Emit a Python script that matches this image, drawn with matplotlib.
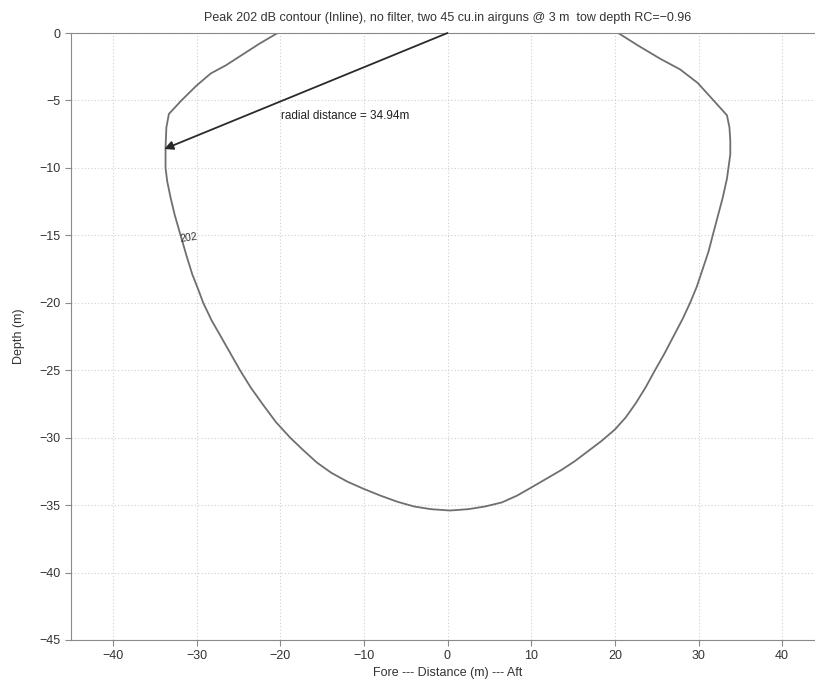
import matplotlib.pyplot as plt

# Peak 202 dB contour, traced from the top-left edge round to the top-right edge
contour_x = [-20.3, -22.5, -24.5, -26.5, -28.3, -30.0, -31.8, -33.3, -33.6, -33.7,
             -33.7, -33.5, -33.1, -32.6, -31.9, -31.2, -30.5, -29.8, -29.2, -28.2,
             -27.0, -25.9, -24.8, -23.5, -22.0, -20.5, -18.8, -17.2, -15.6, -13.9,
             -12.0, -10.0, -8.0, -6.0, -4.0, -2.0, 0.3, 2.5, 4.5, 6.5,
             8.3, 10.0, 11.8, 13.6, 15.2, 16.8, 18.4, 20.0, 21.3, 22.5,
             23.7, 24.8, 25.9, 27.0, 28.1, 29.0, 29.8, 30.5, 31.2, 31.7,
             32.3, 32.9, 33.4, 33.8, 33.8, 33.7, 33.4, 31.8, 29.9, 27.8,
             25.4, 22.7, 20.4]
contour_y = [0.0, -0.8, -1.6, -2.4, -3.0, -3.9, -5.0, -6.0, -7.0, -8.5,
             -10.0, -11.0, -12.2, -13.5, -15.0, -16.5, -17.9, -19.0, -20.0, -21.3,
             -22.6, -23.8, -25.0, -26.3, -27.6, -28.85, -30.0, -30.95, -31.85, -32.6,
             -33.25, -33.8, -34.3, -34.75, -35.1, -35.3, -35.4, -35.3, -35.1, -34.8,
             -34.3, -33.7, -33.05, -32.4, -31.75, -31.0, -30.25, -29.4, -28.5, -27.45,
             -26.25, -25.0, -23.8, -22.5, -21.2, -20.0, -18.8, -17.5, -16.2, -15.0,
             -13.6, -12.2, -10.8, -9.0, -8.0, -7.0, -6.1, -5.0, -3.7, -2.7,
             -1.9, -0.9, 0.0]

contour_level = 202
radial_point = (-33.85, -8.6)
radial_distance = 34.94

xticks = [-40, -30, -20, -10, 0, 10, 20, 30, 40]
yticks = [0, -5, -10, -15, -20, -25, -30, -35, -40, -45]

plt.rcParams['font.family'] = ['Liberation Sans', 'DejaVu Sans']
plt.rcParams['axes.unicode_minus'] = True

fig = plt.figure(figsize=(8.15, 6.89), dpi=100)
ax = fig.add_axes([71 / 815, 49 / 689, 753 / 815, 607 / 689])

ax.plot(contour_x, contour_y, color='#6f6f6f', lw=1.3)

ax.annotate('', xy=radial_point, xytext=(0, 0),
            arrowprops=dict(arrowstyle='-|>', color='#2a2a2a', lw=1.3,
                            mutation_scale=13, shrinkA=0, shrinkB=0))
ax.text(-19.9, -6.15, 'radial distance = %.2fm' % radial_distance,
        fontsize=8.5, color='#222222', va='center', ha='left')
ax.text(-32.0, -15.2, str(contour_level), fontsize=7.5, color='#333333',
        va='center', ha='left', rotation=8)

ax.set_xlim(-45, 45)
ax.set_ylim(-45, 0)
ax.set_xticks(xticks)
ax.set_yticks(yticks)
ax.grid(True, linestyle=(0, (1, 2)), color='#cfcfcf', lw=0.8)

for side in ax.spines:
    ax.spines[side].set_color('#8a8a8a')
ax.tick_params(direction='out', length=4, width=0.8, color='#8a8a8a',
               labelsize=9, labelcolor='#333333')

ax.set_xlabel('Fore --- Distance (m) --- Aft', fontsize=9, color='#333333', labelpad=3)
ax.set_ylabel('Depth (m)', fontsize=9, color='#333333', labelpad=10)
ax.set_title('Peak 202 dB contour (Inline), no filter, two 45 cu.in airguns @ 3 m  tow depth RC=\u22120.96',
             fontsize=9, color='#333333', pad=9)

fig.savefig('out.png', dpi=100)
